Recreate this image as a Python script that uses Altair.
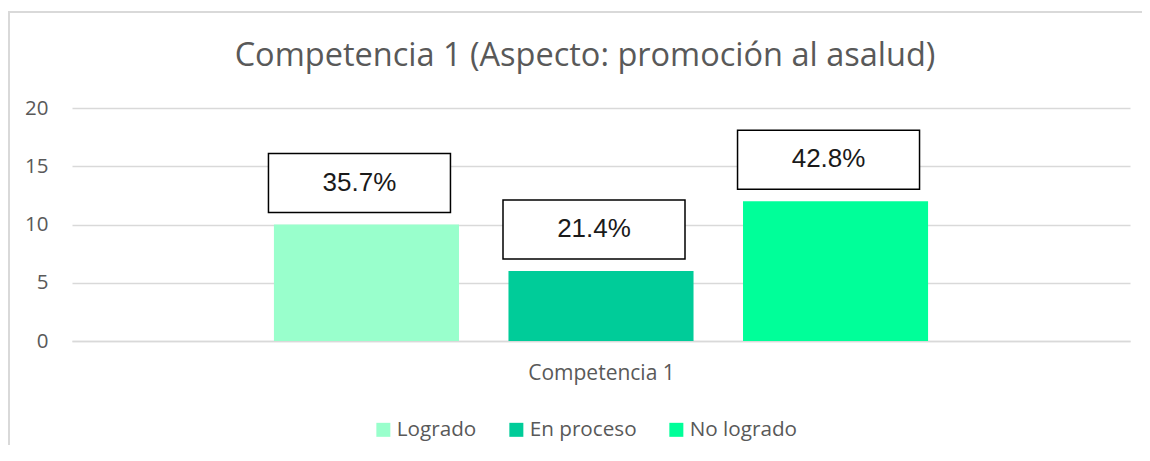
import altair as alt
import pandas as pd

categorias = ["Logrado", "En proceso", "No logrado"]
valores = [10, 6, 12]
porcentajes = ["35.7%", "21.4%", "42.8%"]
colores = ["#99FFCC", "#00CC99", "#00FF99"]
ticks_y = [0, 5, 10, 15, 20]
titulo = "Competencia 1 (Aspecto: promoción al asalud)"
eje_x = "Competencia 1"

df = pd.DataFrame({"categoria": categorias, "valor": valores, "pct": porcentajes})

FONT = "Open Sans"
GRAY = "#595959"
LINE = "#d9d9d9"

x_enc = alt.X(
    "categoria:N",
    sort=categorias,
    scale=alt.Scale(paddingInner=0.211, paddingOuter=0.861),
    axis=alt.Axis(
        labels=False, ticks=False, tickSize=0, domain=True, domainColor=LINE,
        domainWidth=1.5, title=eje_x, titleFont=FONT, titleFontSize=21,
        titleFontWeight="normal", titleColor=GRAY, titlePadding=21,
    ),
)
y_enc = alt.Y(
    "valor:Q",
    scale=alt.Scale(domain=[0, 20], nice=False),
    axis=alt.Axis(
        values=ticks_y, title=None, domain=False, ticks=False, tickSize=0,
        labelPadding=24, labelFont=FONT, labelFontSize=20.5, labelColor=GRAY,
        grid=True, gridColor=LINE, gridWidth=1.5,
    ),
)

base = alt.Chart(df)

border_top = base.mark_rule(stroke=LINE, strokeWidth=2).encode(
    x=alt.value(-64), x2=alt.value(1075), y=alt.value(-96)
)
border_left = base.mark_rule(stroke=LINE, strokeWidth=2).encode(
    x=alt.value(-63), y=alt.value(-97), y2=alt.value(350)
)

bars = base.mark_bar().encode(
    x=x_enc,
    y=y_enc,
    color=alt.Color(
        "categoria:N",
        sort=categorias,
        scale=alt.Scale(domain=categorias, range=colores),
        legend=alt.Legend(
            title=None, orient="none", legendX=301, legendY=311,
            direction="horizontal", symbolType="square", symbolSize=196,
            symbolStrokeWidth=0, labelFont=FONT, labelFontSize=20.7,
            labelColor=GRAY, columnPadding=29, labelOffset=3,
        ),
    ),
)

boxes = base.mark_bar(
    fill="white", stroke="black", strokeWidth=1.5, width=182,
    xOffset=-7, yOffset=-71, y2Offset=-12,
).encode(
    x=alt.X("categoria:N", sort=categorias),
    y=alt.Y("valor:Q"),
    y2=alt.Y2("valor"),
)

labels = base.mark_text(
    font="Liberation Sans", fontSize=26, color="#1a1a1a",
    baseline="middle", align="center", dx=-7, dy=-42,
).encode(
    x=alt.X("categoria:N", sort=categorias),
    y=alt.Y("valor:Q"),
    text="pct:N",
)

chart = (
    alt.layer(border_top, border_left, bars, boxes, labels)
    .properties(
        width=1058, height=233,
        title=alt.TitleParams(
            titulo, font=FONT, fontSize=32.5, fontWeight="normal", color=GRAY,
            anchor="middle", dx=-16, offset=33, dy=95,
        ),
        autosize=alt.AutoSizeParams(type="none"),
        padding={"left": 64, "top": 100, "right": 12, "bottom": 104},
    )
    .configure_view(stroke=None)
)

chart.save("out.html", embed_options={"renderer": "svg", "actions": False})
